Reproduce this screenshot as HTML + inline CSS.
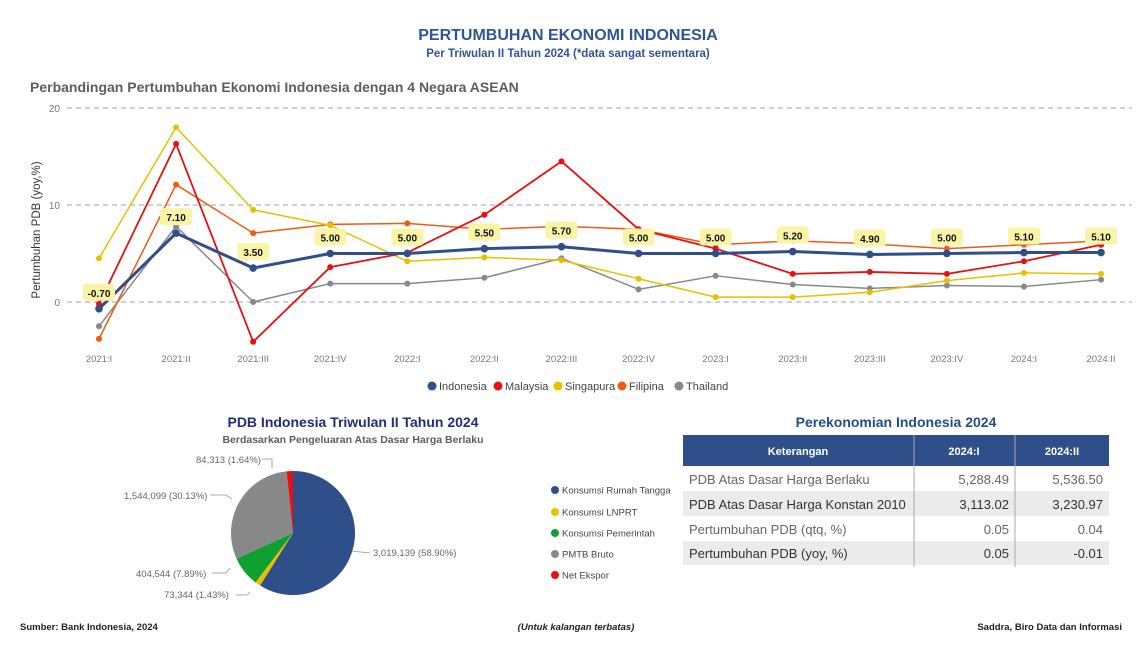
<!DOCTYPE html>
<html><head><meta charset="utf-8"><style>
body{margin:0;background:#fff;width:1137px;height:663px;overflow:hidden;font-family:"Liberation Sans",sans-serif}
svg text{font-family:"Liberation Sans",sans-serif}
</style></head><body>
<svg id="s" width="1137" height="663" xmlns="http://www.w3.org/2000/svg">
<text x="568" y="40" text-anchor="middle" font-size="16" font-weight="bold" fill="#2f5597">PERTUMBUHAN EKONOMI INDONESIA</text>
<text x="568" y="57" text-anchor="middle" font-size="11.5" font-weight="bold" fill="#2f5597">Per Triwulan II Tahun 2024 (*data sangat sementara)</text>
<text x="30" y="92" font-size="14" font-weight="bold" fill="#605e5c">Perbandingan Pertumbuhan Ekonomi Indonesia dengan 4 Negara ASEAN</text>
<g stroke="#a0a0a0" stroke-dasharray="5,4" stroke-width="1">
<line x1="67" y1="108" x2="1132" y2="108"/><line x1="67" y1="205" x2="1132" y2="205"/><line x1="67" y1="302" x2="1132" y2="302"/></g>
<g font-size="10" fill="#777" text-anchor="end"><text x="60" y="112">20</text><text x="60" y="209">10</text><text x="60" y="306">0</text></g>
<text transform="translate(40,230) rotate(-90)" text-anchor="middle" font-size="11.5" fill="#333">Pertumbuhan PDB (yoy,%)</text>
<g id="plot"></g>
<g font-size="11" fill="#444">
<circle cx="432" cy="386" r="4.5" fill="#2f4f8a"/><text x="439" y="390">Indonesia</text>
<circle cx="498" cy="386" r="4.5" fill="#e81010"/><text x="505" y="390">Malaysia</text>
<circle cx="558" cy="386" r="4.5" fill="#e8c000"/><text x="565" y="390">Singapura</text>
<circle cx="622" cy="386" r="4.5" fill="#f05a14"/><text x="629" y="390">Filipina</text>
<circle cx="679" cy="386" r="4.5" fill="#888"/><text x="686" y="390">Thailand</text>
</g>
<text x="353" y="427" text-anchor="middle" font-size="14" font-weight="bold" fill="#1f2d7a">PDB Indonesia Triwulan II Tahun 2024</text>
<text x="353" y="443" text-anchor="middle" font-size="10.5" font-weight="bold" fill="#605e5c">Berdasarkan Pengeluaran Atas Dasar Harga Berlaku</text>
<g id="pie"></g>
<g font-size="9.5" fill="#666">
<text x="196" y="463">84,313 (1.64%)</text>
<text x="124" y="499">1,544,099 (30.13%)</text>
<text x="373" y="556">3,019,139 (58.90%)</text>
<text x="136" y="577">404,544 (7.89%)</text>
<text x="164" y="598">73,344 (1.43%)</text>
</g>
<g stroke="#aaa" fill="none" stroke-width="1">
<polyline points="262,459 272,459 272,468"/><polyline points="210,495 226,495 232,499"/>
<polyline points="352,551 370,553"/><polyline points="212,573 226,573 230,568"/><polyline points="236,595 247,595 250,592"/>
</g>
<g font-size="9.5" fill="#444">
<circle cx="555" cy="490" r="4" fill="#2f4f8a"/><text x="562" y="493.5">Konsumsi Rumah Tangga</text>
<circle cx="555" cy="512" r="4" fill="#e8c000"/><text x="562" y="515.5">Konsumsi LNPRT</text>
<circle cx="555" cy="533" r="4" fill="#10a030"/><text x="562" y="536.5">Konsumsi Pemerintah</text>
<circle cx="555" cy="554" r="4" fill="#888"/><text x="562" y="557.5">PMTB Bruto</text>
<circle cx="555" cy="575" r="4" fill="#e81010"/><text x="562" y="578.5">Net Ekspor</text>
</g>
<text x="896" y="427" text-anchor="middle" font-size="14" font-weight="bold" fill="#1f4e8a">Perekonomian Indonesia 2024</text>
<rect x="683" y="435" width="426" height="31" fill="#2f4f8a"/>
<rect x="683" y="491" width="426" height="25" fill="#ebebeb"/>
<rect x="683" y="541" width="426" height="24" fill="#ebebeb"/>
<line x1="914" y1="435" x2="914" y2="567" stroke="#aaa"/><line x1="1015" y1="435" x2="1015" y2="567" stroke="#aaa"/>
<g font-size="11" font-weight="bold" fill="#fff" text-anchor="middle"><text x="798" y="455">Keterangan</text><text x="964" y="455">2024:I</text><text x="1062" y="455">2024:II</text></g>
<g font-size="13" fill="#666"><text x="689" y="484">PDB Atas Dasar Harga Berlaku</text><text x="689" y="509" fill="#333">PDB Atas Dasar Harga Konstan 2010</text><text x="689" y="534">Pertumbuhan PDB (qtq, %)</text><text x="689" y="558" fill="#333">Pertumbuhan PDB (yoy, %)</text></g>
<g font-size="13" fill="#666" text-anchor="end"><text x="1009" y="484">5,288.49</text><text x="1103" y="484">5,536.50</text>
<text x="1009" y="509" fill="#333">3,113.02</text><text x="1103" y="509" fill="#333">3,230.97</text>
<text x="1009" y="534">0.05</text><text x="1103" y="534">0.04</text>
<text x="1009" y="558" fill="#333">0.05</text><text x="1103" y="558" fill="#333">-0.01</text></g>
<g font-size="9.5" font-weight="bold" fill="#222"><text x="20" y="630">Sumber: Bank Indonesia, 2024</text>
<text x="576" y="630" text-anchor="middle" font-style="italic">(Untuk kalangan terbatas)</text>
<text x="1122" y="630" text-anchor="end">Saddra, Biro Data dan Informasi</text></g>
</svg>
<script>
var NS="http://www.w3.org/2000/svg";
function el(p,t,a,txt){var e=document.createElementNS(NS,t);for(var k in a)e.setAttribute(k,a[k]);if(txt!=null)e.textContent=txt;p.appendChild(e);return e;}
var g=document.getElementById("plot");
var labs=["2021:I","2021:II","2021:III","2021:IV","2022:I","2022:II","2022:III","2022:IV","2023:I","2023:II","2023:III","2023:IV","2024:I","2024:II"];
function X(i){return 99+i*77.08} function Y(v){return 302-v*9.7}
labs.forEach(function(l,i){el(g,"text",{x:X(i),y:362,"text-anchor":"middle","font-size":"9.5",fill:"#777"},l)});
var S=[
["#888",1.5,3,[-2.5,7.8,0,1.9,1.9,2.5,4.5,1.3,2.7,1.8,1.4,1.7,1.6,2.3]],
["#f05a14",1.5,3,[-3.8,12.1,7.1,8.0,8.1,7.5,7.8,7.5,5.9,6.3,6.0,5.5,5.9,6.3]],
["#e8c000",1.5,3,[4.5,18,9.5,7.9,4.2,4.6,4.3,2.4,0.5,0.5,1.0,2.2,3.0,2.9]],
["#e81010",1.8,3,[-0.2,16.3,-4.1,3.6,5.1,9.0,14.5,7.5,5.5,2.9,3.1,2.9,4.2,5.9]],
["#2f4f8a",3,3.8,[-0.7,7.1,3.5,5.0,5.0,5.5,5.7,5.0,5.0,5.2,4.9,5.0,5.1,5.1]]];
S.forEach(function(s){var p=s[3].map(function(v,i){return X(i)+","+Y(v)}).join(" ");
el(g,"polyline",{points:p,fill:"none",stroke:s[0],"stroke-width":s[1],"stroke-linejoin":"round"});
s[3].forEach(function(v,i){el(g,"circle",{cx:X(i),cy:Y(v),r:s[2],fill:s[0]})});});
var ind=S[4][3];
ind.forEach(function(v,i){var y=Y(v)-16;var t=v.toFixed(2);
el(g,"rect",{x:X(i)-16,y:y-9,width:32,height:17,rx:3,fill:"#faf4a6"});
el(g,"text",{x:X(i),y:y+4,"text-anchor":"middle","font-size":"10","font-weight":"bold",fill:"#111"},t);});
var pg=document.getElementById("pie");var cx=293,cy=533,r=62;
var P=[[58.90,"#2f4f8a"],[1.43,"#e8c000"],[7.89,"#10a030"],[30.13,"#888"],[1.64,"#e81010"]];
var tot=P.reduce(function(a,b){return a+b[0]},0),a0=-Math.PI/2;
P.forEach(function(p){var a1=a0+p[0]/tot*2*Math.PI;var lg=(a1-a0)>Math.PI?1:0;
var d="M"+cx+","+cy+" L"+(cx+r*Math.cos(a0))+","+(cy+r*Math.sin(a0))+" A"+r+","+r+" 0 "+lg+" 1 "+(cx+r*Math.cos(a1))+","+(cy+r*Math.sin(a1))+" Z";
el(pg,"path",{d:d,fill:p[1]});a0=a1;});
</script>
</body></html>
